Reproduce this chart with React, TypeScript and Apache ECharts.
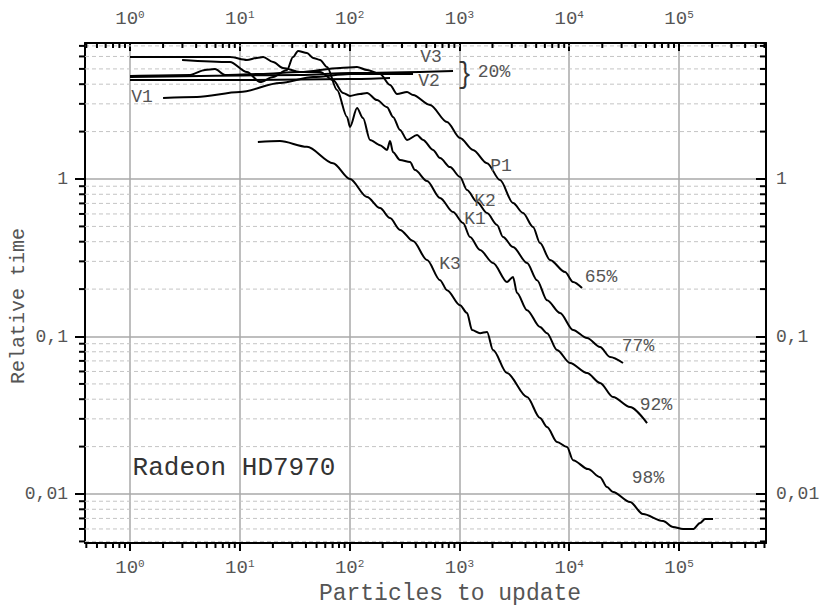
import React, { useEffect, useRef } from 'react';
import * as echarts from 'echarts';

const FONT = '"Courier New", Courier, "Liberation Mono", "DejaVu Sans Mono", monospace';

// axis extents (log10 space bounds of the frame)
const X_MIN = Math.pow(10, -0.41);
const X_MAX = Math.pow(10, 5.792);
const Y_MIN = Math.pow(10, -2.311);
const Y_MAX = Math.pow(10, 0.8635);

// tick labels
const yMajorValues = [0.01, 0.1, 1];
const yMajorLabels = ['0,01', '0,1', '1'];
const minorSteps = [2, 3, 4, 5, 6, 7, 8, 9];
const xMinorDecades = [0.1, 1, 10, 100, 1000, 10000, 100000];
const yMinorDecades = [0.001, 0.01, 0.1, 1];

// curves: [particles, relative time]
const p1: number[][] = [
  [1, 4.51], [3.52, 4.58], [4.82, 4.92], [5.94, 4.99], [7.33, 4.58], [15.3, 4.64], [35.3, 4.78],
  [81.8, 5.07], [116.8, 5.14], [144, 4.92], [189.2, 4.64], [233.3, 3.95], [270.2, 3.47],
  [333.3, 3.57], [378, 3.41], [539.9, 2.95], [770.9, 2.3], [1013, 1.82], [1330, 1.53],
  [1784, 1.26], [2343, 0.985], [3077, 0.704], [3796, 0.608], [4680, 0.496], [5421, 0.392],
  [6686, 0.306], [9157, 0.257], [10830, 0.222], [13080, 0.203],
];
const k1: number[][] = [
  [2.98, 5.7], [8.14, 5.53], [11.6, 4.78], [15.3, 4.13], [20.1, 4.44], [26.9, 4.92], [30.5, 5.95],
  [33.9, 6.5], [40.9, 6.31], [46.4, 5.87], [53.8, 5.7], [62.3, 5.14], [76.8, 3.67], [94.7, 2.48],
  [100.8, 2.14], [116.8, 2.82], [132.4, 2.44], [153.4, 1.77], [189.2, 1.64], [219.1, 1.53],
  [233.3, 1.74], [248.5, 1.48], [287.7, 1.32], [354.9, 1.28], [394.2, 1.14], [507, 0.971],
  [665.9, 0.758], [874.5, 0.617], [1079, 0.526], [1249, 0.428], [1540, 0.354], [2023, 0.293],
  [2714, 0.222], [3077, 0.239], [3346, 0.189], [4128, 0.147], [5421, 0.115], [6278, 0.105],
  [7743, 0.0821], [10170, 0.0679], [14530, 0.0586], [19080, 0.0507], [25060, 0.0413],
  [35790, 0.0357], [51130, 0.0282],
];
const k2: number[][] = [
  [1, 5.95], [8.14, 5.95], [11.6, 5.7], [14.3, 5.87], [16.3, 5.95], [20.1, 5.53], [24.7, 5.07],
  [35.3, 4.78], [53.8, 4.78], [70.6, 4.25], [87.1, 3.52], [100.8, 3.37], [124.3, 3.47], [144, 3.52],
  [177.6, 3.17], [219.1, 2.86], [248.5, 2.48], [287.7, 2.05], [333.3, 1.77], [411.1, 1.9],
  [466.2, 1.77], [575, 1.53], [665.9, 1.36], [821.1, 1.19], [1013, 1.03], [1173, 0.851],
  [1446, 0.714], [1784, 0.608], [2200, 0.511], [2495, 0.428], [3077, 0.37], [4128, 0.293],
  [5090, 0.228], [6278, 0.17], [8247, 0.141], [10830, 0.11], [14530, 0.0978], [19080, 0.0858],
  [23530, 0.0741], [30900, 0.0679],
];
const k3: number[][] = [
  [14.6, 1.72], [23.2, 1.74], [40.9, 1.6], [70.6, 1.26], [100.8, 1.0], [144, 0.769], [189.2, 0.654],
  [233.3, 0.565], [287.7, 0.475], [378, 0.404], [507, 0.306], [665.9, 0.228], [770.9, 0.197],
  [1013, 0.158], [1173, 0.141], [1302, 0.11], [1540, 0.105], [1784, 0.107], [2023, 0.0821],
  [2714, 0.0586], [4128, 0.0413], [5421, 0.0304], [6278, 0.0266], [7743, 0.0214], [9550, 0.0199],
  [10830, 0.0164], [14840, 0.0144], [19080, 0.0128], [22100, 0.01107], [25060, 0.0103],
  [35790, 0.0089], [47000, 0.00746], [71500, 0.00674], [88200, 0.00617], [108750, 0.00599],
  [134100, 0.00599], [155400, 0.00655], [172500, 0.00694], [204000, 0.00694],
];
const v1: number[][] = [
  [2.0, 3.27], [4.07, 3.32], [10, 3.57], [23.2, 4.07], [46.4, 4.44], [100.8, 4.64], [378, 4.64],
];
const v2: number[][] = [[1, 4.25], [12.4, 4.25], [100.8, 4.31], [233.3, 4.38]];
const v3: number[][] = [[1, 4.44], [35.3, 4.58], [100.8, 4.71], [874.5, 4.85]];

const curves = [p1, k1, k2, k3, v1, v2, v3];
const curveNames = ['P1', 'K1', 'K2', 'K3', 'V1', 'V2', 'V3'];

function isPow10(v: number) {
  const l = Math.log10(v);
  return Math.abs(l - Math.round(l)) < 1e-6;
}

export default function App() {
  const ref = useRef<HTMLDivElement>(null);
  useEffect(() => {
    if (!ref.current) return;
    const chart = echarts.init(ref.current, null, { renderer: 'svg' });

    const xMinor: number[][] = [];
    xMinorDecades.forEach((d) => minorSteps.forEach((m) => {
      const v = d * m;
      if (v > X_MIN && v < X_MAX) xMinor.push([v, 1]);
    }));
    const yMinor: number[][] = [];
    yMinorDecades.forEach((d) => minorSteps.forEach((m) => {
      const v = d * m;
      if (v > Y_MIN && v < Y_MAX) yMinor.push([1, v]);
    }));

    const xLabel = (v: number) => (isPow10(v) ? `{b|10}{s|${Math.round(Math.log10(v))}}` : '');
    const yLabel = (v: number) => {
      const i = yMajorValues.findIndex((m) => Math.abs(Math.log10(m) - Math.log10(v)) < 1e-6);
      return i >= 0 ? yMajorLabels[i] : '';
    };
    const rich = {
      b: { fontFamily: FONT, fontSize: 19, color: '#555', lineHeight: 20 },
      s: { fontFamily: FONT, fontSize: 11, color: '#555', lineHeight: 12, padding: [0, 0, 9, 0] },
    };
    const black = '#000';

    const xCommon = {
      type: 'log',
      logBase: 10,
      min: X_MIN,
      max: X_MAX,
      axisLine: { show: true, lineStyle: { color: black, width: 2 } },
      minorTick: { show: false },
    };
    const yCommon = {
      type: 'log',
      logBase: 10,
      min: Y_MIN,
      max: Y_MAX,
      axisLine: { show: true, lineStyle: { color: black, width: 2 } },
    };

    const text = (t: string, x: number, y: number, size = 18, color = '#555', extra: any = {}) => ({
      type: 'text',
      x,
      y,
      z: 10,
      ...extra,
      style: { text: t, fontFamily: FONT, fontSize: size, fill: color, align: 'center', verticalAlign: 'middle' },
    });

    chart.setOption({
      animation: false,
      backgroundColor: '#fff',
      grid: { left: 85, top: 43, width: 681, height: 500, containLabel: false, outerBoundsMode: 'none' },
      xAxis: [
        {
          ...xCommon,
          position: 'bottom',
          axisTick: { show: true, inside: false, length: 8, lineStyle: { color: black, width: 2 } },
          axisLabel: { formatter: xLabel, rich, margin: 15, showMinLabel: false, showMaxLabel: false },
          splitLine: { show: true, lineStyle: { color: '#a8a8a8', width: 1.5 } },
        },
        {
          ...xCommon,
          position: 'top',
          axisTick: { show: true, inside: true, length: 8, lineStyle: { color: black, width: 2 } },
          axisLabel: { formatter: xLabel, rich, margin: 14, showMinLabel: false, showMaxLabel: false },
          splitLine: { show: false },
        },
      ],
      yAxis: [
        {
          ...yCommon,
          position: 'left',
          axisTick: { show: true, inside: false, length: 10, lineStyle: { color: black, width: 2 } },
          axisLabel: { formatter: yLabel, fontFamily: FONT, fontSize: 18, color: '#555', margin: 17, showMinLabel: false, showMaxLabel: false },
          splitLine: { show: true, lineStyle: { color: '#a8a8a8', width: 1.5 } },
        },
        {
          ...yCommon,
          position: 'right',
          axisTick: { show: true, inside: true, length: 10, lineStyle: { color: black, width: 2 } },
          axisLabel: { formatter: yLabel, fontFamily: FONT, fontSize: 18, color: '#555', margin: 10, showMinLabel: false, showMaxLabel: false },
          splitLine: { show: false },
        },
      ],
      series: [
        {
          type: 'custom',
          name: 'yMinor',
          xAxisIndex: 0,
          yAxisIndex: 0,
          clip: false,
          z: 1,
          silent: true,
          data: yMinor,
          renderItem: (params: any, api: any) => {
            const cs = params.coordSys;
            const y = api.coord([1, api.value(1)])[1];
            return {
              type: 'group',
              children: [
                { type: 'line', shape: { x1: cs.x, y1: y, x2: cs.x + cs.width, y2: y }, style: { stroke: '#c4c4c4', lineWidth: 1, lineDash: [4, 3] } },
                { type: 'line', shape: { x1: cs.x - 6, y1: y, x2: cs.x, y2: y }, style: { stroke: black, lineWidth: 2 } },
                { type: 'line', shape: { x1: cs.x + cs.width - 6, y1: y, x2: cs.x + cs.width, y2: y }, style: { stroke: black, lineWidth: 2 } },
              ],
            };
          },
        },
        {
          type: 'custom',
          name: 'xMinor',
          xAxisIndex: 0,
          yAxisIndex: 0,
          clip: false,
          z: 1,
          silent: true,
          data: xMinor,
          renderItem: (params: any, api: any) => {
            const cs = params.coordSys;
            const x = api.coord([api.value(0), 1])[0];
            return {
              type: 'group',
              children: [
                { type: 'line', shape: { x1: x, y1: cs.y, x2: x, y2: cs.y + 5 }, style: { stroke: black, lineWidth: 2 } },
                { type: 'line', shape: { x1: x, y1: cs.y + cs.height, x2: x, y2: cs.y + cs.height + 5 }, style: { stroke: black, lineWidth: 2 } },
              ],
            };
          },
        },
        ...curves.map((c, i) => ({
          type: 'line',
          name: curveNames[i],
          data: c,
          xAxisIndex: 0,
          yAxisIndex: 0,
          showSymbol: false,
          symbol: 'none',
          smooth: 0.3,
          smoothMonotone: 'x',
          z: 3,
          lineStyle: { color: black, width: 2 },
        })),
      ],
      graphic: [
        text('Relative time', 18, 306, 20, '#555', { rotation: Math.PI / 2 }),
        text('Particles to update', 450, 594, 23, '#555'),
        text('Radeon HD7970', 234, 468, 26, '#333'),
        text('V3', 431, 57),
        text('V2', 429, 81),
        text('V1', 142, 97),
        text('}', 465, 75, 30, '#333', { scaleX: 0.8 }),
        text('20%', 494, 72),
        text('P1', 501, 166),
        text('K2', 485, 201),
        text('K1', 475, 219),
        text('K3', 450, 264),
        text('65%', 601, 277),
        text('77%', 638, 346),
        text('92%', 656, 405),
        text('98%', 648, 478),
      ],
    });
    return () => chart.dispose();
  }, []);
  return <div ref={ref} style={{ position: 'absolute', left: 0, top: 0, width: 822, height: 607 }} />;
}
